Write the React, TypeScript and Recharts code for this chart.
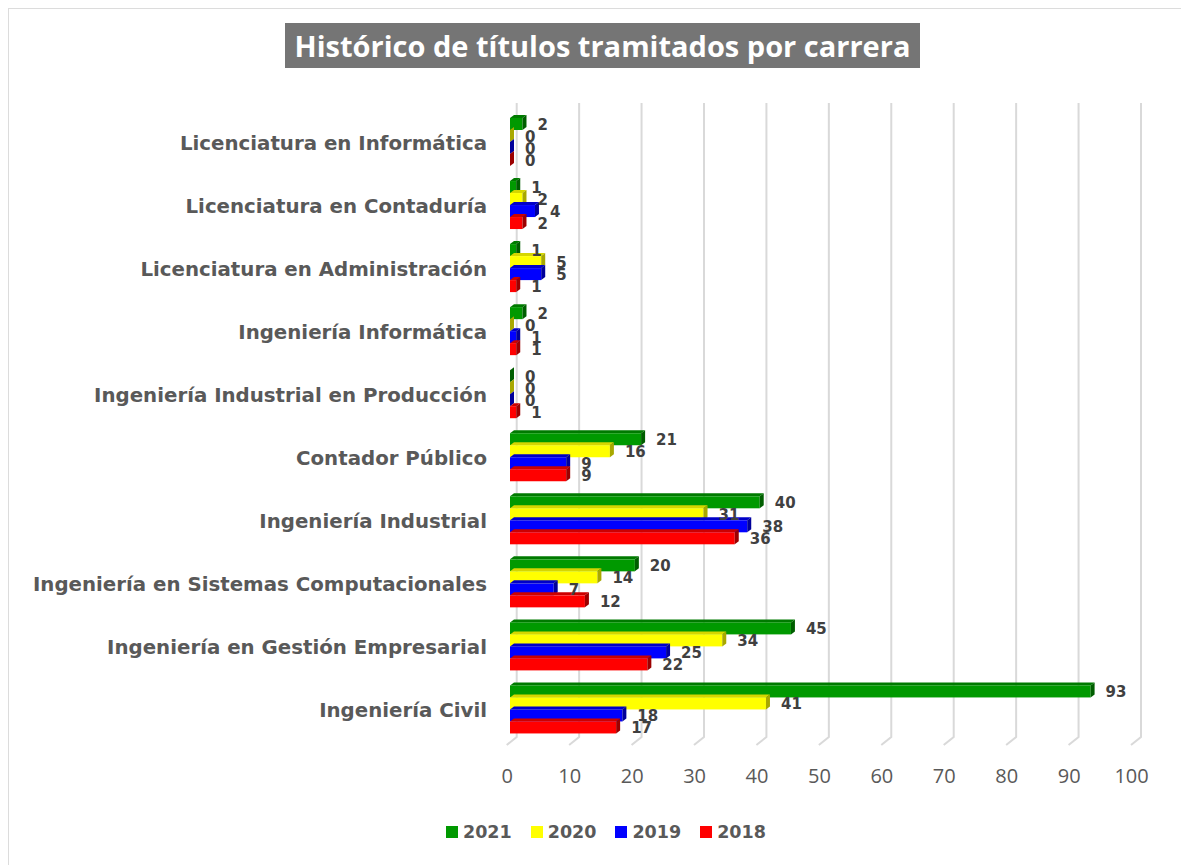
import React from "react";
import { Bar, BarChart, CartesianGrid, LabelList, Legend, XAxis, YAxis } from "recharts";

const categories = [
  "Licenciatura en Informática",
  "Licenciatura en Contaduría",
  "Licenciatura en Administración",
  "Ingeniería Informática",
  "Ingeniería Industrial en Producción",
  "Contador Público",
  "Ingeniería Industrial",
  "Ingeniería en Sistemas Computacionales",
  "Ingeniería en Gestión Empresarial",
  "Ingeniería Civil"
];
const y2021 = [2, 1, 1, 2, 0, 21, 40, 20, 45, 93];
const y2020 = [0, 2, 5, 0, 0, 16, 31, 14, 34, 41];
const y2019 = [0, 4, 5, 1, 0, 9, 38, 7, 25, 18];
const y2018 = [0, 2, 1, 1, 1, 9, 36, 12, 22, 17];
const xTicks = [0, 10, 20, 30, 40, 50, 60, 70, 80, 90, 100];

const series = [
  { key: "2021", values: y2021, color: "#009900", side: "#005e00", top: "#007a00" },
  { key: "2020", values: y2020, color: "#ffff00", side: "#a8a800", top: "#d6d600" },
  { key: "2019", values: y2019, color: "#0000ff", side: "#00009a", top: "#0000c8" },
  { key: "2018", values: y2018, color: "#ff0000", side: "#9c0000", top: "#cc0000" }
];

const data = categories.map((name, i) => ({
  name,
  "2021": y2021[i],
  "2020": y2020[i],
  "2019": y2019[i],
  "2018": y2018[i]
}));

const gray = "#595959";
const font = "'Open Sans', sans-serif";
const wide = "'DejaVu Sans', Verdana, sans-serif";

// front face + right side + top face, small 3D depth like the Excel original
function Bar3D(props: any) {
  const { x, y, width, height, fill, side, top } = props;
  if (height == null || y == null) return null;
  const w = Math.max(width || 0, 0);
  const d = 4;
  const u = 3;
  return (
    <g>
      <polygon points={`${x},${y} ${x + d},${y - u} ${x + w + d},${y - u} ${x + w},${y}`} fill={top} />
      <rect x={x} y={y} width={w} height={height} fill={fill} />
      <polygon
        points={`${x + w},${y} ${x + w + d},${y - u} ${x + w + d},${y + height - u} ${x + w},${y + height}`}
        fill={side}
      />
    </g>
  );
}

function GridLine(props: any) {
  const { x1, y1, y2 } = props;
  const bx = x1 + 6.7;
  return (
    <path
      key={props.key}
      d={`M${bx},${y1 - 7} L${bx},${y2 - 3.5} L${bx - 10},${y2 + 4.5}`}
      stroke="#d9d9d9"
      strokeWidth={2}
      fill="none"
    />
  );
}

function CategoryTick(props: any) {
  const { y, payload } = props;
  return (
    <text x={487} y={y + 2} textAnchor="end" dominantBaseline="central" fill={gray} fontFamily={wide} fontWeight={700} fontSize={19.8}>
      {payload.value}
    </text>
  );
}

function ValueTick(props: any) {
  const { x, payload } = props;
  return (
    <text x={x - 2.7} y={775} textAnchor="middle" dominantBaseline="central" fill={gray} fontFamily={font} fontSize={20}>
      {payload.value}
    </text>
  );
}

function ValueLabel(props: any) {
  const { x, y, width, height, value } = props;
  return (
    <text
      x={x + Math.max(width, 0) + 15}
      y={y + height / 2 + 1}
      dominantBaseline="central"
      fill="#404040"
      fontFamily={wide}
      fontWeight={700}
      fontSize={15}
    >
      {value}
    </text>
  );
}

function LegendContent() {
  return (
    <div style={{ display: "flex", alignItems: "center", fontFamily: wide, fontWeight: 700, fontSize: 17.5, color: gray }}>
      {series.map((s) => (
        <div key={s.key} style={{ display: "flex", alignItems: "center", marginRight: 19 }}>
          <span style={{ width: 12, height: 12, background: s.color, marginRight: 5, display: "inline-block" }} />
          <span>{s.key}</span>
        </div>
      ))}
    </div>
  );
}

export default function App() {
  return (
    <div style={{ position: "relative", width: 1189, height: 865, margin: "-8px 0 0 -8px", background: "#fff" }}>
      <div
        style={{
          position: "absolute",
          left: 7,
          top: 7,
          right: 0,
          bottom: 0,
          borderTop: "2px solid #dcdcdc",
          borderLeft: "2px solid #dcdcdc"
        }}
      />
      <div
        style={{
          position: "absolute",
          left: 285,
          top: 23,
          width: 635,
          height: 45,
          background: "#757575",
          color: "#fff",
          fontFamily: font,
          fontWeight: 700,
          fontSize: 29,
          lineHeight: "45px",
          textAlign: "center",
          whiteSpace: "nowrap"
        }}
      >
        Histórico de títulos tramitados por carrera
      </div>
      <div style={{ position: "absolute", left: 0, top: 0 }}>
        <BarChart
          width={1189}
          height={865}
          data={data}
          layout="vertical"
          margin={{ top: 110, right: 54.7, bottom: 84.5, left: 0 }}
          barSize={12}
          barGap={0}
        >
          <CartesianGrid horizontal={false} vertical={(p: any) => <GridLine {...p} />} />
          <XAxis
            type="number"
            domain={[0, 100]}
            ticks={xTicks}
            axisLine={false}
            tickLine={false}
            tickSize={0}
            height={40}
            tick={<ValueTick />}
            interval={0}
          />
          <YAxis
            type="category"
            dataKey="name"
            width={510}
            axisLine={false}
            tickLine={false}
            tick={<CategoryTick />}
            interval={0}
          />
          <Legend
            verticalAlign="middle"
            align="center"
            layout="horizontal"
            content={<LegendContent />}
            wrapperStyle={{ top: 822, left: 446, width: 400, height: 22 }}
          />
          {series.map((s) => (
            <Bar
              key={s.key}
              dataKey={s.key}
              fill={s.color}
              isAnimationActive={false}
              shape={(p: any) => <Bar3D {...p} fill={s.color} side={s.side} top={s.top} />}
            >
              <LabelList dataKey={s.key} content={<ValueLabel />} />
            </Bar>
          ))}
        </BarChart>
      </div>
    </div>
  );
}
